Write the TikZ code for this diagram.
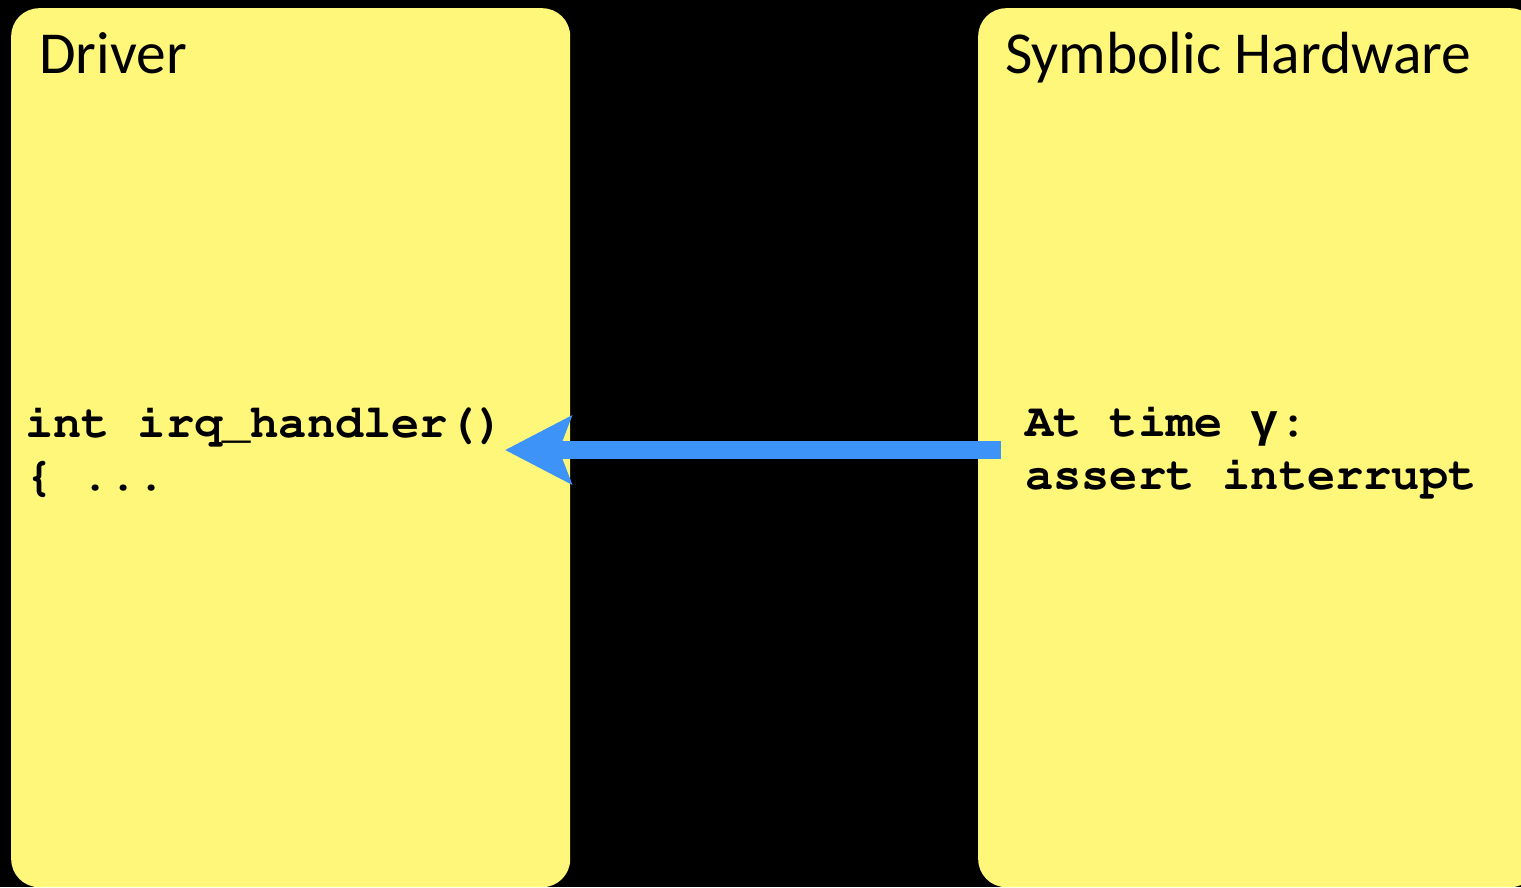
\documentclass[tikz,border=0pt]{standalone}
\usepackage[T1]{fontenc}
\usepackage{fontspec}
\setmainfont{Carlito}
\newfontfamily\greekmono{Liberation Mono}
\newcommand{\couriercode}{\fontencoding{T1}\fontfamily{pcr}\fontseries{b}\selectfont}
\usetikzlibrary{arrows.meta}
\definecolor{padyellow}{HTML}{FFF779}
\definecolor{arrowblue}{HTML}{3D93F7}
\tikzset{
  panel/.style={fill=padyellow, draw=none, rounded corners=28pt, anchor=north west, inner sep=0pt},
  paneltitle/.style={anchor=base west, inner sep=0pt, font=\fontsize{59.5}{70}\selectfont},
  codetext/.style={anchor=base west, inner sep=0pt, font=\fontsize{47}{53}\couriercode},
  signal/.style={draw=arrowblue, line width=18pt, -{Stealth[length=66pt, width=67pt, inset=12pt, fill=arrowblue]}}
}
\begin{document}
\begin{tikzpicture}[x=1pt,y=-1pt]
\useasboundingbox (0,0) rectangle (1521,887);
\clip (0,0) rectangle (1521,887);
\fill[black] (0,0) rectangle (1521,887);
\node[panel, minimum width=559pt, minimum height=879pt] (driverbox) at (11,8) {};
\node[panel, minimum width=560pt, minimum height=879pt] (hwbox) at (978,8) {};
\node[paneltitle] (drivertitle) at (39,73) {Driver};
\node[paneltitle] (hwtitle) at (1005,73) {Symbolic Hardware};
\node[codetext] (drivercode) at (25,437) {\vtop{\hbox{int irq\_handler()}\hbox{\{ ...}}};
\node[codetext] (hwcode) at (1025,436) {\vtop{\hbox{At time {\greekmono\bfseries γ}:}\hbox{assert interrupt}}};
\coordinate (hwport) at (1001,450);
\coordinate (driverport) at (505,450);
\draw[signal] (hwport) -- (driverport);
\end{tikzpicture}
\end{document}
